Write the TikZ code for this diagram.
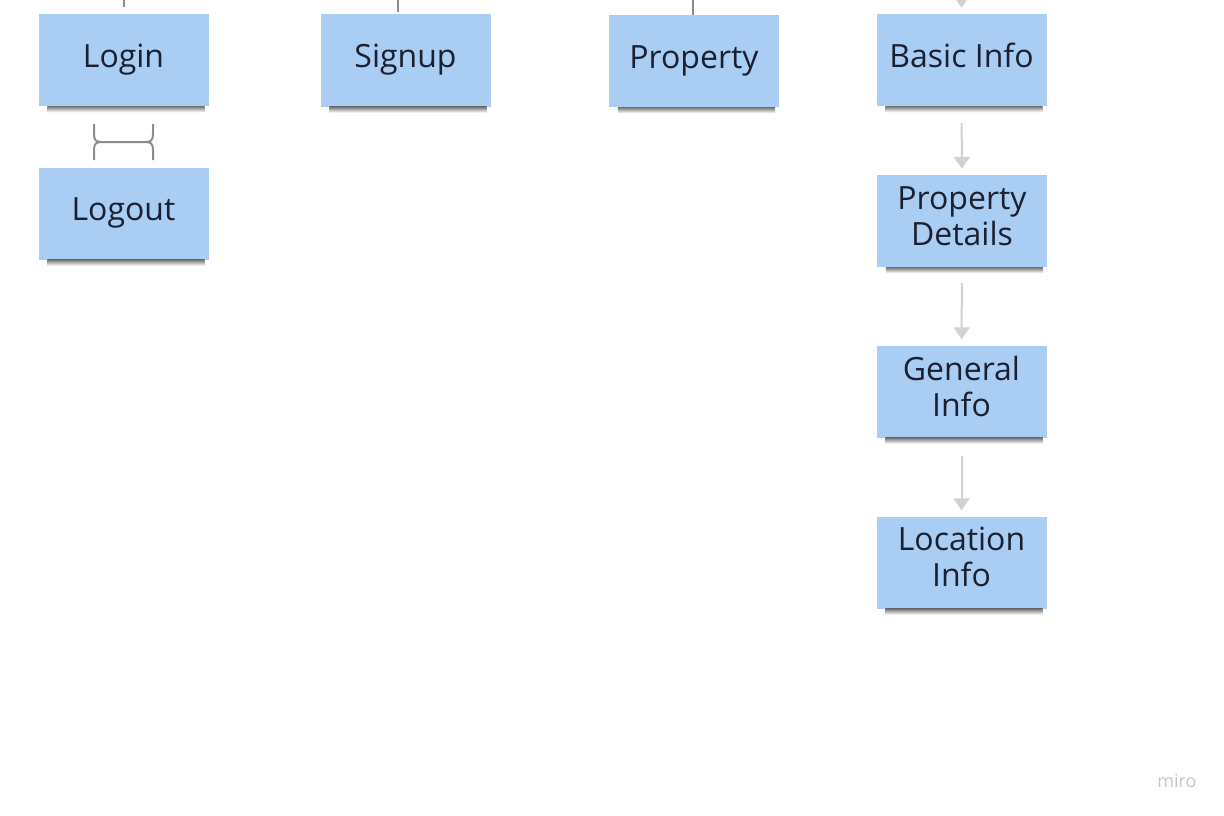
\documentclass[tikz,border=0pt]{standalone}
\usepackage{fontspec}
\setmainfont{Open Sans}
\usetikzlibrary{arrows.meta}
\definecolor{sticky}{HTML}{AACDF4}
\definecolor{inkdark}{HTML}{1B2030}
\definecolor{linkgrey}{HTML}{8C8C8C}
\definecolor{flowgrey}{HTML}{D2D2D2}
\tikzset{
  sticky/.style={fill=sticky, minimum width=170pt, minimum height=92pt,
    inner sep=0pt, align=center, text=inkdark,
    font=\fontsize{32}{36}\selectfont,
    execute at begin node=\strut, execute at end node=\strut},
  stickyshadow/.style={top color=black!55, bottom color=white},
  stub/.style={draw=linkgrey, line width=2pt},
  flow/.style={draw=flowgrey, line width=2pt,
    -{Triangle[width=16pt,length=12pt]}}
}
\begin{document}
\begin{tikzpicture}[x=1pt,y=-1pt]
\useasboundingbox[fill=white] (0,0) rectangle (1224,816);
% top row
\node[sticky] (login) at (123.5,60) {Login};
\node[sticky] (signup) at (405.5,60.5) {Signup};
\node[sticky] (property) at (694,61) {Property};
\node[sticky] (basic) at (961.5,60) {Basic Info};
% left column
\node[sticky] (logout) at (123.5,213.5) {Logout};
% right column
\node[sticky] (details) at (962,221) {Property\\Details};
\node[sticky] (general) at (961.5,391.5) {General\\Info};
\node[sticky] (location) at (961.5,562.5) {Location\\Info};
% shadows under the stickies
\foreach \n in {login,signup,property,basic,logout,details,general,location}
  \shade[stickyshadow] ([xshift=9pt]\n.south west) rectangle ([xshift=-4pt,yshift=-6pt]\n.south east);
% connectors coming in from above
\coordinate (loginIn) at (123.5,0);
\coordinate (signupIn) at (398,0);
\coordinate (propertyIn) at (693,0);
\coordinate (basicIn) at (961.5,-30);
\draw[stub] (loginIn) -- (123.5,7);
\draw[stub] (signupIn) -- (398,12);
\draw[stub] (propertyIn) -- (693,15);
\draw[flow, shorten >=6pt] (basicIn) -- (basic.north);
% login / logout link
\draw[stub] (94,124) -- (94,134) .. controls (94,140) and (96,142) .. (101,142)
  -- (146,142) .. controls (151,142) and (153,140) .. (153,134) -- (153,124);
\draw[stub] (94,160) -- (94,150) .. controls (94,144) and (96,142) .. (101,142);
\draw[stub] (153,160) -- (153,150) .. controls (153,144) and (151,142) .. (146,142);
% flow on the right
\draw[flow, shorten <=17pt, shorten >=6pt] (basic.south) -- (details.north);
\draw[flow, shorten <=16pt, shorten >=6pt] (details.south) -- (general.north);
\draw[flow, shorten <=18pt, shorten >=6pt] (general.south) -- (location.north);
% watermark
\node[text=black!22, font=\fontsize{18}{20}\selectfont] (miro) at (1177,781) {miro};
\end{tikzpicture}
\end{document}
